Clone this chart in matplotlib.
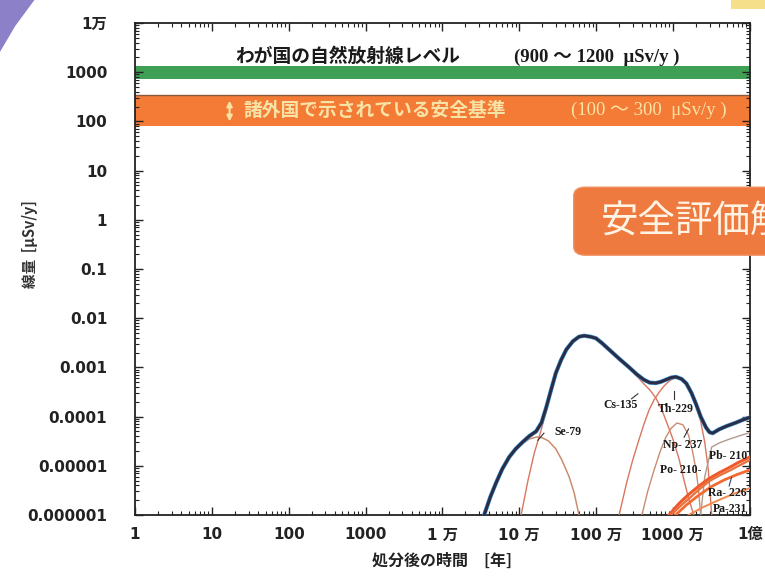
import numpy as np
import matplotlib.pyplot as plt
from matplotlib.patches import FancyBboxPatch, Polygon, Rectangle
from matplotlib.ticker import LogLocator, FixedLocator, FixedFormatter, NullFormatter

plt.rcParams['font.family'] = ['DejaVu Sans', 'Noto Sans CJK JP']

# --- data ---
x_ticks = [1, 10, 100, 1e3, 1e4, 1e5, 1e6, 1e7, 1e8]
x_ticklabels = ['1', '10', '100', '1000', '1 万', '10 万', '100 万', '1000 万', '1億']
y_ticks = [1e-6, 1e-5, 1e-4, 1e-3, 1e-2, 0.1, 1, 10, 100, 1000, 1e4]
y_ticklabels = ['0.000001', '0.00001', '0.0001', '0.001', '0.01', '0.1', '1', '10', '100', '1000', '1万']

natural_band = (730, 1340)      # わが国の自然放射線レベル
standard_band = (82, 340)       # 諸外国で示されている安全基準

total_t = [3.5e4, 4.2e4, 5.0e4, 6.0e4, 7.4e4, 9.0e4, 1.1e5, 1.35e5, 1.66e5, 1.95e5, 2.24e5,
           2.6e5, 3.0e5, 3.5e5, 4.1e5, 5.0e5, 6.0e5, 7.0e5, 8.5e5, 1.0e6, 1.2e6, 1.48e6,
           2.0e6, 2.7e6, 3.4e6, 4.2e6, 5.0e6, 6.0e6, 7.0e6, 8.1e6, 9.5e6, 1.1e7, 1.3e7,
           1.5e7, 1.75e7, 2.0e7, 2.3e7, 2.7e7, 3.0e7, 3.3e7, 4.0e7, 5.0e7, 6.6e7, 8.0e7, 1.0e8]
total_d = [1e-6, 2.3e-6, 4.5e-6, 8.5e-6, 1.5e-5, 2.2e-5, 3.0e-5, 4.0e-5, 5.0e-5, 7.5e-5, 1.5e-4,
           3.5e-4, 7.7e-4, 1.4e-3, 2.3e-3, 3.4e-3, 4.2e-3, 4.4e-3, 4.2e-3, 3.9e-3, 3.1e-3, 2.3e-3,
           1.5e-3, 1.0e-3, 7.2e-4, 5.6e-4, 4.9e-4, 4.8e-4, 5.1e-4, 5.6e-4, 6.2e-4, 6.4e-4, 5.8e-4,
           4.7e-4, 3.0e-4, 1.8e-4, 1.0e-4, 6.0e-5, 4.8e-5, 4.6e-5, 5.5e-5, 6.4e-5, 7.5e-5, 8.5e-5, 9.6e-5]

se79_t = [3.5e4, 4.2e4, 5.0e4, 6.0e4, 7.4e4, 9.0e4, 1.1e5, 1.35e5, 1.7e5, 2.0e5, 2.4e5,
          3.0e5, 3.6e5, 4.46e5, 5.2e5, 6.0e5]
se79_d = [1e-6, 2.3e-6, 4.4e-6, 8.2e-6, 1.4e-5, 2.1e-5, 2.8e-5, 3.5e-5, 3.85e-5, 3.7e-5, 3.2e-5,
          2.2e-5, 1.3e-5, 6.0e-6, 2.8e-6, 1e-6]

cs135_t = [1.06e5, 1.3e5, 1.57e5, 1.93e5, 2.24e5, 2.6e5, 3.0e5, 3.5e5, 4.1e5, 5.0e5, 6.0e5,
           7.0e5, 8.5e5, 1.0e6, 1.2e6, 1.48e6, 2.0e6, 2.7e6, 3.4e6, 4.2e6, 5.0e6, 6.0e6,
           7.0e6, 8.1e6, 1.0e7, 1.2e7, 1.4e7, 1.6e7, 1.87e7]
cs135_d = [1e-6, 5e-6, 1.8e-5, 5.3e-5, 1.3e-4, 3.4e-4, 7.6e-4, 1.38e-3, 2.25e-3, 3.35e-3, 4.15e-3,
           4.35e-3, 4.15e-3, 3.85e-3, 3.05e-3, 2.25e-3, 1.45e-3, 9.5e-4, 6.6e-4, 4.6e-4, 3.5e-4, 2.4e-4,
           1.5e-4, 8.5e-5, 3.5e-5, 1.4e-5, 5e-6, 2.2e-6, 1e-6]

th229_t = [2.0e6, 2.5e6, 3.0e6, 3.6e6, 4.2e6, 4.9e6, 5.7e6, 6.6e6, 7.7e6, 8.9e6, 1.0e7,
           1.15e7, 1.3e7, 1.5e7, 1.75e7, 2.0e7, 2.3e7, 2.6e7, 2.9e7, 3.2e7]
th229_d = [1e-6, 4.5e-6, 1.3e-5, 3.3e-5, 7e-5, 1.36e-4, 2.2e-4, 3.1e-4, 4.2e-4, 5.2e-4, 5.9e-4,
           6.1e-4, 5.6e-4, 4.4e-4, 2.8e-4, 1.7e-4, 8e-5, 3e-5, 8e-6, 1e-6]

np237_t = [3.96e6, 4.7e6, 5.7e6, 6.8e6, 8.1e6, 9.5e6, 1.13e7, 1.35e7, 1.6e7, 1.8e7, 2.0e7, 2.15e7, 2.3e7]
np237_d = [1e-6, 3e-6, 8.2e-6, 1.9e-5, 3.8e-5, 5.8e-5, 7.4e-5, 6.8e-5, 4.2e-5, 2.0e-5, 8.2e-6, 3.5e-6, 1e-6]

pb210_t = [8.9e6, 1.2e7, 1.6e7, 2.2e7, 2.9e7, 4.0e7, 5.3e7, 7.0e7, 1.0e8]
pb210_d = [1e-6, 1.7e-6, 2.6e-6, 3.9e-6, 5.4e-6, 7.2e-6, 9.0e-6, 1.15e-5, 1.5e-5]

po210_t = [9.5e6, 1.3e7, 1.7e7, 2.3e7, 3.0e7, 4.1e7, 5.5e7, 7.2e7, 1.0e8]
po210_d = [1e-6, 1.6e-6, 2.3e-6, 3.5e-6, 4.9e-6, 6.4e-6, 8.0e-6, 1.0e-5, 1.3e-5]

ra226_t = [1.09e7, 1.5e7, 2.2e7, 3.2e7, 4.6e7, 6.8e7, 1.0e8]
ra226_d = [1e-6, 1.6e-6, 2.55e-6, 3.8e-6, 5.1e-6, 6.6e-6, 8.2e-6]

pa231_t = [1.6e7, 2.5e7, 3.95e7, 6.2e7, 1.0e8]
pa231_d = [1e-6, 1.45e-6, 2.0e-6, 2.7e-6, 3.5e-6]

other_t = [2.3e7, 2.6e7, 3.2e7, 4.0e7, 5.5e7, 7.5e7, 1.0e8]
other_d = [1e-6, 6e-6, 2.4e-5, 2.9e-5, 3.5e-5, 4.1e-5, 4.7e-5]

labels = [
    ('Se-79', 4.3e5, 4.9e-5, 'center'),
    ('Cs-135', 2.1e6, 1.7e-4, 'center'),
    ('Th-229', 1.08e7, 1.45e-4, 'center'),
    ('Np- 237', 1.35e7, 2.65e-5, 'center'),
    ('Pb- 210', 9.4e7, 1.55e-5, 'right'),
    ('Po- 210-', 1.25e7, 8.2e-6, 'center'),
    ('Ra- 226', 9.2e7, 2.8e-6, 'right'),
    ('Pa-231', 9.4e7, 1.3e-6, 'right'),
]

fig = plt.figure(figsize=(7.65, 5.76), dpi=100)
ax = fig.add_axes([0.1765, 0.106, 0.8035, 0.854])
ax.set_xscale('log')
ax.set_yscale('log')
ax.set_xlim(1, 1e8)
ax.set_ylim(1e-6, 1e4)

# bands
ax.axhspan(*natural_band, color='#3f9f55', lw=0, zorder=1)
ax.axhspan(*standard_band, color='#f47b35', lw=0, zorder=1)
ax.axhline(standard_band[1], color='#8a5a3a', lw=1.0, zorder=1.5)

jp = ['Noto Sans CJK JP', 'DejaVu Sans']
serif = ['Liberation Serif', 'Noto Sans CJK JP', 'DejaVu Serif']
ax.text(20, 2050, 'わが国の自然放射線レベル', fontsize=13.5, fontweight='bold', color='#1a1a1a',
        family=jp, va='center', ha='left', zorder=5)
ax.text(8.6e4, 2050, '(900 ～ 1200  μSv/y )', fontsize=13.5, fontweight='bold', family=serif,
        color='#1a1a1a', va='center', ha='left', zorder=5)
ax.text(26, 165, '諸外国で示されている安全基準', fontsize=13.5, fontweight='bold', color='#f8e3a6',
        family=jp, va='center', ha='left', zorder=5)
ax.text(4.7e5, 165, '(100 ～ 300  μSv/y )', fontsize=13.5, family=serif,
        color='#f8e3a6', va='center', ha='left', zorder=5)
ax.annotate('', xy=(17, 300), xytext=(17, 88),
            arrowprops=dict(arrowstyle='<|-|>', color='#f8e3a6', lw=1.5,
                            mutation_scale=8), zorder=5)

# curves
thin = '#d9765f'
ax.plot(se79_t, se79_d, color='#c98d6e', lw=1.1, zorder=3)
ax.plot(cs135_t, cs135_d, color=thin, lw=1.0, zorder=3)
ax.plot(th229_t, th229_d, color=thin, lw=1.0, zorder=3)
ax.plot(np237_t, np237_d, color='#c98d6e', lw=1.0, zorder=3)
ax.plot(other_t, other_d, color='#b09a90', lw=1.0, zorder=3)
ax.plot(pb210_t, pb210_d, color='#f05a2a', lw=2.2, zorder=3)
ax.plot(po210_t, po210_d, color='#e8703c', lw=1.6, zorder=3)
ax.plot(ra226_t, ra226_d, color='#f36a30', lw=2.0, zorder=3)
ax.plot(pa231_t, pa231_d, color='#f08a50', lw=1.4, zorder=3)
ax.plot(total_t, total_d, color='#3a8fd0', lw=3.0, zorder=4, solid_capstyle='round')
ax.plot(total_t, total_d, color='#2b2d45', lw=2.1, zorder=4.5, solid_capstyle='round')

for name, lx, ly, ha in labels:
    ax.text(lx, ly, name, fontsize=8.5, fontweight='bold', family=serif,
            color='#1a1a1a', ha=ha, va='center', zorder=6)

# small leader lines next to labels
ax.plot([1.75e5, 2.1e5], [3.3e-5, 4.6e-5], color='#333333', lw=0.8, zorder=6)
ax.plot([2.9e6, 3.5e6], [2.3e-4, 2.9e-4], color='#333333', lw=0.8, zorder=6)
ax.plot([1.05e7, 1.05e7], [2.3e-4, 3.3e-4], color='#333333', lw=0.8, zorder=6)
ax.plot([1.4e7, 1.6e7], [3.8e-5, 5.6e-5], color='#333333', lw=0.8, zorder=6)
ax.plot([5.4e7, 5.8e7], [3.9e-6, 5.8e-6], color='#2b4a7a', lw=0.8, zorder=6)

# ticks
ax.xaxis.set_major_locator(FixedLocator(x_ticks))
ax.xaxis.set_major_formatter(FixedFormatter(x_ticklabels))
ax.xaxis.set_minor_locator(LogLocator(base=10, subs=np.arange(2, 10), numticks=20))
ax.xaxis.set_minor_formatter(NullFormatter())
ax.yaxis.set_major_locator(FixedLocator(y_ticks))
ax.yaxis.set_major_formatter(FixedFormatter(y_ticklabels))
ax.yaxis.set_minor_locator(LogLocator(base=10, subs=np.arange(2, 10), numticks=20))
ax.yaxis.set_minor_formatter(NullFormatter())
ax.tick_params(which='both', direction='in', top=True, right=True, color='#222222')
ax.tick_params(which='major', length=6, width=1)
ax.tick_params(which='minor', length=3, width=0.8)
ax.tick_params(axis='x', labelsize=11, pad=9)
ax.tick_params(axis='y', labelsize=11, pad=20)
for lab in ax.get_xticklabels() + ax.get_yticklabels():
    lab.set_fontweight('bold')
    lab.set_color('#222222')
for s in ax.spines.values():
    s.set_linewidth(1.3)
    s.set_color('#222222')

ax.set_xlabel('処分後の時間　[年]', fontsize=11.5, fontweight='bold', color='#222222',
              labelpad=7, family=jp)
ax.set_ylabel('線量  [μSv/y]', fontsize=10.5, fontweight='bold', color='#333333', family=jp)
ax.yaxis.set_label_coords(-0.158, 0.55)

# decorations around the chart
fig.patches.append(FancyBboxPatch((0.75, 0.557), 0.30, 0.118, transform=fig.transFigure,
                                  boxstyle='round,pad=0,rounding_size=0.015',
                                  facecolor='#ee7a40', edgecolor='#f09060', lw=1, zorder=10))
fig.text(0.786, 0.614, '安全評価解', fontsize=27, color='#fff4e4',
         family=jp, va='center', ha='left', zorder=11)
fig.patches.append(Polygon([(0, 1), (0.045, 1), (0.02, 0.955), (0.0, 0.91)],
                           closed=True, transform=fig.transFigure,
                           facecolor='#8c80c8', edgecolor='none', zorder=0))
fig.patches.append(Rectangle((0.955, 0.985), 0.05, 0.02, transform=fig.transFigure,
                             facecolor='#f6df8a', edgecolor='none', zorder=0))

fig.savefig('out.png', dpi=100)
